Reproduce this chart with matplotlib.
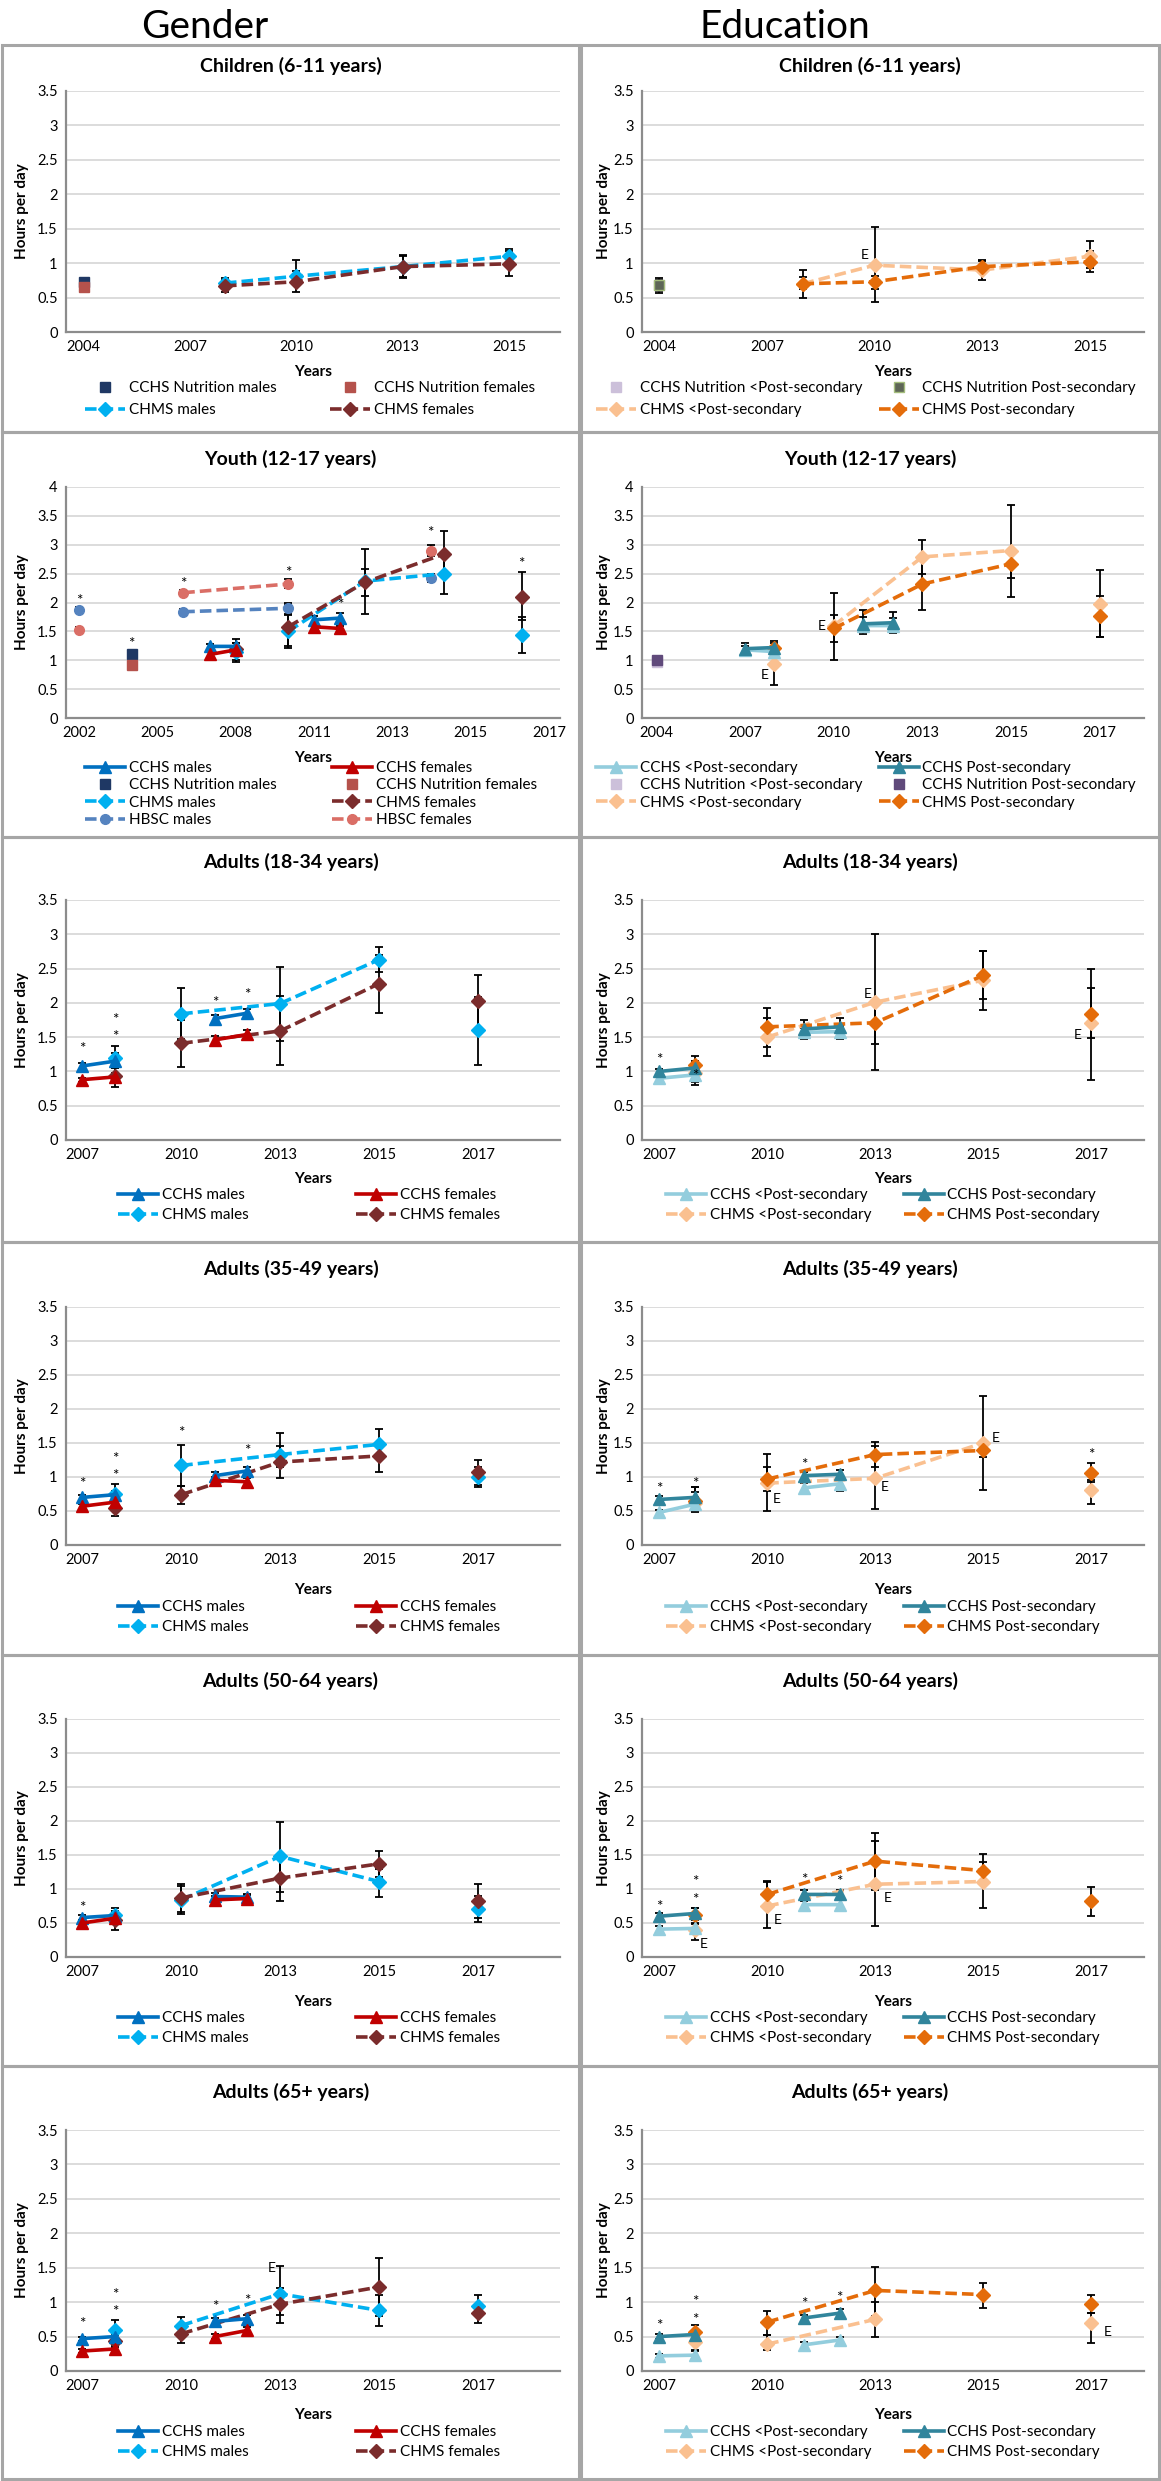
"""Screen time trends by gender and education, 6 age groups (recreated figure)."""

import matplotlib
matplotlib.use("Agg")
import matplotlib.pyplot as plt
from matplotlib.lines import Line2D
from matplotlib.patches import Rectangle
import numpy as np

plt.rcParams["font.family"] = ["Lato", "DejaVu Sans"]

nan = np.nan
W, H = 1161, 2481

# ── Data (x = position on the category axis, y = hours per day) ──────────────
# error bars are (low, high), None where no bar is drawn

# Children, gender
CG_TICKS = ["2004", "2007", "2010", "2013", "2015"]
CG_NUT_X = [0]
CG_NUT_M = [0.72]
CG_NUT_M_ERR = [(0.69, 0.75)]
CG_NUT_F = [0.66]
CG_NUT_F_ERR = [(0.62, 0.70)]
CG_CHMS_X = [1.33, 2, 3, 4]
CG_CHMS_M = [0.71, 0.81, 0.95, 1.10]
CG_CHMS_M_ERR = [(0.62, 0.78), (0.70, 1.05), (0.80, 1.12), (0.95, 1.21)]
CG_CHMS_F = [0.67, 0.73, 0.95, 0.99]
CG_CHMS_F_ERR = [(0.58, 0.76), (0.58, 0.88), (0.78, 1.10), (0.82, 1.17)]

# Children, education
CE_TICKS = ["2004", "2007", "2010", "2013", "2015"]
CE_NUT_X = [0]
CE_NUT_LO = [0.68]
CE_NUT_LO_ERR = [(0.60, 0.76)]
CE_NUT_HI = [0.68]
CE_NUT_HI_ERR = [(0.57, 0.78)]
CE_CHMS_X = [1.33, 2, 3, 4]
CE_CHMS_LO = [0.70, 0.97, 0.90, 1.10]
CE_CHMS_LO_ERR = [(0.50, 0.90), (0.43, 1.52), (0.76, 1.03), (0.93, 1.32)]
CE_CHMS_HI = [0.70, 0.73, 0.95, 1.02]
CE_CHMS_HI_ERR = [(0.62, 0.80), (0.63, 0.82), (0.85, 1.05), (0.87, 1.17)]
CE_E = [(1.91, 1.12)]

# Youth, gender
YG_TICKS = ["2002", "2005", "2008", "2011", "2013", "2015", "2017"]
YG_HBSC_X = [0, nan, 1.33, 2.67, nan, 4.49]
YG_HBSC_M = [1.87, nan, 1.84, 1.90, nan, 2.43]
YG_HBSC_M_ERR = [(1.82, 1.92), None, (1.80, 1.88), (1.78, 2.00), None, (2.35, 2.50)]
YG_HBSC_F = [1.53, nan, 2.17, 2.32, nan, 2.90]
YG_HBSC_F_ERR = [(1.49, 1.57), None, (2.13, 2.21), (2.25, 2.40), None, (2.80, 3.00)]
YG_NUT_X = [0.67]
YG_NUT_M = [1.10]
YG_NUT_M_ERR = [(1.02, 1.18)]
YG_NUT_F = [0.92]
YG_NUT_F_ERR = [(0.88, 0.96)]
YG_CCHS_X = [1.67, 2.0, nan, 3.0, 3.33]
YG_CCHS_M = [1.24, 1.24, nan, 1.70, 1.73]
YG_CCHS_M_ERR = [(1.20, 1.28), (1.18, 1.30), None, (1.64, 1.76), (1.66, 1.82)]
YG_CCHS_F = [1.10, 1.18, nan, 1.58, 1.55]
YG_CCHS_F_ERR = [(1.06, 1.14), (1.12, 1.24), None, (1.52, 1.64), (1.50, 1.60)]
YG_CHMS_X = [2.0, nan, 2.67, 3.65, 4.66, nan, 5.65]
YG_CHMS_M = [1.15, nan, 1.50, 2.37, 2.50, nan, 1.44]
YG_CHMS_M_ERR = [(1.00, 1.30), None, (1.25, 1.80), (2.12, 2.58), (2.15, 2.85), None, (1.12, 1.75)]
YG_CHMS_F = [1.20, nan, 1.58, 2.35, 2.84, nan, 2.10]
YG_CHMS_F_ERR = [(0.97, 1.37), None, (1.22, 1.98), (1.80, 2.92), (2.45, 3.23), None, (1.70, 2.53)]
YG_STAR = [(0, 2.02), (0.67, 1.28), (1.33, 2.32), (2.67, 2.51), (3.33, 1.95), (4.49, 3.20), (5.65, 2.67)]

# Youth, education
YE_TICKS = ["2004", "2007", "2010", "2013", "2015", "2017"]
YE_NUT_X = [0]
YE_NUT_LO = [0.97]
YE_NUT_LO_ERR = [(0.90, 1.05)]
YE_NUT_HI = [1.00]
YE_NUT_HI_ERR = [(0.88, 1.08)]
YE_CCHS_X = [1.0, 1.33, nan, 2.33, 2.67]
YE_CCHS_LO = [1.18, 1.15, nan, 1.60, 1.60]
YE_CCHS_LO_ERR = [(1.12, 1.24), (1.08, 1.22), None, (1.45, 1.75), (1.47, 1.73)]
YE_CCHS_HI = [1.20, 1.22, nan, 1.63, 1.65]
YE_CCHS_HI_ERR = [(1.14, 1.30), (1.15, 1.30), None, (1.50, 1.87), (1.50, 1.83)]
YE_CHMS_X = [1.33, nan, 2.0, 3.0, 4.0, nan, 5.0]
YE_CHMS_LO = [0.93, nan, 1.60, 2.79, 2.90, nan, 1.98]
YE_CHMS_LO_ERR = [(0.57, 1.07), None, (1.00, 2.17), (2.50, 3.08), (2.10, 3.68), None, (1.40, 2.57)]
YE_CHMS_HI = [1.22, nan, 1.55, 2.32, 2.67, nan, 1.76]
YE_CHMS_HI_ERR = [(1.07, 1.33), None, (1.31, 1.78), (1.87, 2.78), (2.42, 2.92), None, (1.40, 2.12)]
YE_E = [(1.22, 0.75), (1.86, 1.60)]

# Adults: the same year axis for every age group
AD_TICKS = ["2007", "2010", "2013", "2015", "2017"]
AD_CCHS_X = [0, 0.33, nan, 1.34, 1.67]
AD_CHMS_X = [0.33, nan, 1.0, 2.0, 3.0, nan, 4.0]

# Adults 18-34, gender
A1G_CCHS_M = [1.08, 1.15, nan, 1.77, 1.85]
A1G_CCHS_M_ERR = [(1.04, 1.12), (1.05, 1.27), None, (1.72, 1.83), (1.80, 1.91)]
A1G_CCHS_F = [0.88, 0.92, nan, 1.46, 1.54]
A1G_CCHS_F_ERR = [(0.85, 0.91), (0.86, 0.98), None, (1.42, 1.52), (1.48, 1.60)]
A1G_CHMS_M = [1.20, nan, 1.84, 1.99, 2.63, nan, 1.60]
A1G_CHMS_M_ERR = [(1.05, 1.37), None, (1.47, 2.22), (1.45, 2.52), (2.45, 2.82), None, (1.10, 2.08)]
A1G_CHMS_F = [0.93, nan, 1.41, 1.59, 2.28, nan, 2.02]
A1G_CHMS_F_ERR = [(0.78, 1.08), None, (1.06, 1.75), (1.10, 2.10), (1.85, 2.70), None, (1.62, 2.40)]
A1G_STAR = [(0, 1.32), (0.33, 1.75), (0.33, 1.50), (1.34, 2.00), (1.67, 2.12)]

# Adults 18-34, education
A1E_CCHS_LO = [0.90, 0.95, nan, 1.57, 1.58]
A1E_CCHS_LO_ERR = [(0.86, 0.94), (0.85, 1.05), None, (1.50, 1.64), (1.50, 1.66)]
A1E_CCHS_HI = [1.00, 1.05, nan, 1.62, 1.65]
A1E_CCHS_HI_ERR = [(0.96, 1.04), (0.95, 1.15), None, (1.48, 1.75), (1.48, 1.78)]
A1E_CHMS_LO = [0.97, nan, 1.50, 2.01, 2.33, nan, 1.70]
A1E_CHMS_LO_ERR = [(0.80, 1.10), None, (1.22, 1.78), (1.02, 3.00), (1.89, 2.75), None, (0.88, 2.50)]
A1E_CHMS_HI = [1.10, nan, 1.65, 1.71, 2.40, nan, 1.84]
A1E_CHMS_HI_ERR = [(0.90, 1.22), None, (1.35, 1.93), (1.40, 2.00), (2.05, 2.76), None, (1.49, 2.21)]
A1E_STAR = [(0, 1.16), (0.33, 0.93)]
A1E_E = [(1.93, 2.13), (3.88, 1.53)]

# Adults 35-49, gender
A2G_CCHS_M = [0.70, 0.74, nan, 1.02, 1.09]
A2G_CCHS_M_ERR = [(0.66, 0.74), (0.68, 0.80), None, (0.97, 1.07), (1.03, 1.15)]
A2G_CCHS_F = [0.57, 0.63, nan, 0.95, 0.93]
A2G_CCHS_F_ERR = [(0.53, 0.61), (0.57, 0.69), None, (0.90, 1.00), (0.88, 0.98)]
A2G_CHMS_M = [0.75, nan, 1.17, 1.33, 1.48, nan, 1.00]
A2G_CHMS_M_ERR = [(0.62, 0.90), None, (0.87, 1.47), (1.15, 1.65), (1.26, 1.70), None, (0.85, 1.15)]
A2G_CHMS_F = [0.55, nan, 0.74, 1.22, 1.31, nan, 1.07]
A2G_CHMS_F_ERR = [(0.42, 0.68), None, (0.61, 0.87), (0.99, 1.45), (1.08, 1.52), None, (0.88, 1.25)]
A2G_STAR = [(0, 0.90), (0.33, 1.27), (0.33, 1.02), (1.0, 1.64), (1.67, 1.38)]

# Adults 35-49, education
A2E_CCHS_LO = [0.48, 0.60, nan, 0.84, 0.90]
A2E_CCHS_LO_ERR = [(0.44, 0.52), (0.50, 0.70), None, (0.77, 0.91), (0.80, 1.00)]
A2E_CCHS_HI = [0.67, 0.70, nan, 1.02, 1.04]
A2E_CCHS_HI_ERR = [(0.62, 0.72), (0.62, 0.85), None, (0.96, 1.08), (0.98, 1.10)]
A2E_CHMS_LO = [0.62, nan, 0.91, 0.98, 1.50, nan, 0.81]
A2E_CHMS_LO_ERR = [(0.48, 0.78), None, (0.50, 1.34), (0.53, 1.45), (0.81, 2.19), None, (0.60, 0.95)]
A2E_CHMS_HI = [0.65, nan, 0.97, 1.33, 1.39, nan, 1.06]
A2E_CHMS_HI_ERR = [(0.52, 0.85), None, (0.80, 1.14), (1.14, 1.52), (1.29, 1.50), None, (0.93, 1.20)]
A2E_STAR = [(0, 0.82), (0.33, 0.90), (1.34, 1.18), (4.0, 1.33)]
A2E_E = [(1.09, 0.68), (2.09, 0.85), (3.12, 1.58)]

# Adults 50-64, gender
A3G_CCHS_M = [0.58, 0.61, nan, 0.89, 0.88]
A3G_CCHS_M_ERR = [(0.54, 0.62), (0.56, 0.66), None, (0.84, 0.94), (0.83, 0.93)]
A3G_CCHS_F = [0.50, 0.57, nan, 0.84, 0.86]
A3G_CCHS_F_ERR = [(0.46, 0.54), (0.52, 0.62), None, (0.79, 0.89), (0.81, 0.91)]
A3G_CHMS_M = [0.62, nan, 0.84, 1.48, 1.11, nan, 0.71]
A3G_CHMS_M_ERR = [(0.50, 0.72), None, (0.63, 1.05), (0.96, 1.99), (0.88, 1.30), None, (0.51, 0.90)]
A3G_CHMS_F = [0.54, nan, 0.87, 1.16, 1.37, nan, 0.82]
A3G_CHMS_F_ERR = [(0.40, 0.68), None, (0.66, 1.08), (0.82, 1.50), (1.18, 1.56), None, (0.57, 1.07)]
A3G_STAR = [(0, 0.72)]

# Adults 50-64, education
A3E_CCHS_LO = [0.41, 0.42, nan, 0.77, 0.77]
A3E_CCHS_LO_ERR = [(0.37, 0.45), (0.36, 0.48), None, (0.72, 0.82), (0.70, 0.84)]
A3E_CCHS_HI = [0.60, 0.64, nan, 0.92, 0.92]
A3E_CCHS_HI_ERR = [(0.56, 0.64), (0.58, 0.72), None, (0.86, 0.98), (0.70, 0.98)]
A3E_CHMS_LO = [0.40, nan, 0.75, 1.07, 1.11, nan, nan]
A3E_CHMS_LO_ERR = [(0.25, 0.55), None, (0.43, 1.10), (0.45, 1.70), (0.72, 1.40), None, None]
A3E_CHMS_HI = [0.62, nan, 0.92, 1.41, 1.27, nan, 0.82]
A3E_CHMS_HI_ERR = [(0.50, 0.72), None, (0.72, 1.12), (0.98, 1.83), (1.10, 1.51), None, (0.60, 1.03)]
A3E_STAR = [(0, 0.74), (0.33, 1.11), (0.33, 0.84), (1.34, 1.13), (1.67, 1.11)]
A3E_E = [(0.41, 0.19), (1.10, 0.55), (2.12, 0.87)]

# Adults 65+, gender
A4G_CCHS_M = [0.47, 0.50, nan, 0.72, 0.76]
A4G_CCHS_M_ERR = [(0.44, 0.50), (0.46, 0.56), None, (0.67, 0.77), (0.71, 0.81)]
A4G_CCHS_F = [0.29, 0.32, nan, 0.50, 0.59]
A4G_CCHS_F_ERR = [(0.26, 0.32), (0.28, 0.36), None, (0.46, 0.54), (0.54, 0.64)]
A4G_CHMS_M = [0.60, nan, 0.66, 1.12, 0.88, nan, 0.95]
A4G_CHMS_M_ERR = [(0.47, 0.74), None, (0.55, 0.79), (0.82, 1.52), (0.66, 1.10), None, (0.82, 1.11)]
A4G_CHMS_F = [0.43, nan, 0.54, 0.97, 1.22, nan, 0.84]
A4G_CHMS_F_ERR = [(0.35, 0.52), None, (0.40, 0.66), (0.70, 1.20), (0.80, 1.64), None, (0.70, 0.96)]
A4G_STAR = [(0, 0.68), (0.33, 1.10), (0.33, 0.85), (1.34, 0.93), (1.67, 1.02)]
A4G_E = [(1.91, 1.50)]

# Adults 65+, education
A4E_CCHS_LO = [0.22, 0.23, nan, 0.38, 0.45]
A4E_CCHS_LO_ERR = [(0.19, 0.25), (0.19, 0.29), None, (0.34, 0.42), (0.41, 0.49)]
A4E_CCHS_HI = [0.50, 0.53, nan, 0.77, 0.84]
A4E_CCHS_HI_ERR = [(0.46, 0.54), (0.47, 0.59), None, (0.72, 0.82), (0.78, 0.90)]
A4E_CHMS_LO = [0.42, nan, 0.39, 0.75, nan, nan, 0.69]
A4E_CHMS_LO_ERR = [(0.30, 0.52), None, (0.30, 0.52), (0.50, 1.00), None, None, (0.41, 0.84)]
A4E_CHMS_HI = [0.57, nan, 0.71, 1.17, 1.11, nan, 0.97]
A4E_CHMS_HI_ERR = [(0.45, 0.67), None, (0.52, 0.87), (0.80, 1.51), (0.92, 1.28), None, (0.84, 1.11)]
A4E_STAR = [(0, 0.66), (0.33, 1.00), (0.33, 0.74), (1.34, 0.98), (1.67, 1.06)]
A4E_E = [(4.15, 0.57)]

# ── Styles ───────────────────────────────────────────────────────────────────
DASH = (0, (3.2, 1.4))
STYLE = {
    "cchs_m":  dict(color="#0070C0", ls="-", lw=2.6, marker="^", ms=9),
    "cchs_f":  dict(color="#C00000", ls="-", lw=2.6, marker="^", ms=9),
    "nut_m":   dict(color="#1F3864", ls="none", marker="s", ms=6.5),
    "nut_f":   dict(color="#B5524C", ls="none", marker="s", ms=6.5),
    "chms_m":  dict(color="#00B0F0", ls=DASH, lw=2.6, marker="D", ms=7),
    "chms_f":  dict(color="#7B2C2C", ls=DASH, lw=2.6, marker="D", ms=7),
    "hbsc_m":  dict(color="#5583BF", ls=DASH, lw=2.6, marker="o", ms=7),
    "hbsc_f":  dict(color="#DA6E66", ls=DASH, lw=2.6, marker="o", ms=7),
    "cchs_lo": dict(color="#93CDDD", ls="-", lw=2.6, marker="^", ms=9),
    "cchs_hi": dict(color="#31859C", ls="-", lw=2.6, marker="^", ms=9),
    "nut_lo":  dict(color="#CCC0DA", ls="none", marker="s", ms=6.5),
    "nut_hi":  dict(color="#604A7B", ls="none", marker="s", ms=6.5),
    "nut_hi_c": dict(color="#5E6657", markeredgecolor="#A4BD7C", ls="none", marker="s", ms=6.5),
    "chms_lo": dict(color="#FAC090", ls=DASH, lw=2.6, marker="D", ms=7),
    "chms_hi": dict(color="#E46C0A", ls=DASH, lw=2.6, marker="D", ms=7),
}
LABEL = {
    "cchs_m": "CCHS males", "cchs_f": "CCHS females",
    "nut_m": "CCHS Nutrition males", "nut_f": "CCHS Nutrition females",
    "chms_m": "CHMS males", "chms_f": "CHMS females",
    "hbsc_m": "HBSC males", "hbsc_f": "HBSC females",
    "cchs_lo": "CCHS <Post-secondary", "cchs_hi": "CCHS Post-secondary",
    "nut_lo": "CCHS Nutrition <Post-secondary", "nut_hi": "CCHS Nutrition Post-secondary",
    "nut_hi_c": "CCHS Nutrition Post-secondary",
    "chms_lo": "CHMS <Post-secondary", "chms_hi": "CHMS Post-secondary",
}

# ── Layout (pixels from the top of the figure) ───────────────────────────────
ROWS = [
    dict(box=(45, 432), ax=(91, 332), title=66, years=372, leg=381, sp=0.55),
    dict(box=(432, 837), ax=(487, 718), title=459, years=758, leg=761, sp=0.22),
    dict(box=(837, 1242), ax=(900, 1140), title=862, years=1179, leg=1188, sp=0.42),
    dict(box=(1242, 1655), ax=(1307, 1545), title=1269, years=1590, leg=1600, sp=0.42),
    dict(box=(1655, 2066), ax=(1719, 1957), title=1681, years=2002, leg=2011, sp=0.42),
    dict(box=(2066, 2479), ax=(2130, 2371), title=2092, years=2415, leg=2425, sp=0.42),
]
COLS = [dict(box=(2, 579), ax=(66, 560), ylab=22), dict(box=(581, 1159), ax=(642, 1144), ylab=604)]

fig = plt.figure(figsize=(W / 100, H / 100), dpi=100)
fig.patch.set_facecolor("white")

fig.text(205 / W, 1 - 27 / H, "Gender", ha="center", va="center", fontsize=28)
fig.text(785 / W, 1 - 27 / H, "Education", ha="center", va="center", fontsize=28)


def fy(px):
    return 1 - px / H


def handle(key):
    return Line2D([], [], label=LABEL[key], **STYLE[key])


def draw(ax, x, y, key, err=None):
    x = np.asarray(x, float)
    y = np.asarray(y, float)
    if err is not None:
        lo = np.array([e[0] if e else nan for e in err])
        hi = np.array([e[1] if e else nan for e in err])
        ok = np.isfinite(lo) & np.isfinite(x)
        ax.errorbar(x[ok], y[ok], yerr=[y[ok] - lo[ok], hi[ok] - y[ok]], fmt="none",
                    ecolor="black", elinewidth=1.3, capsize=3, capthick=1.3, zorder=2)
    ax.plot(x, y, zorder=3, **STYLE[key])


def panel(row, col, title, ticks, xlim, ymax, series, legend_cols, leg_x,
          stars=(), elabels=()):
    r, c = ROWS[row], COLS[col]
    fig.add_artist(Rectangle((c["box"][0] / W, fy(r["box"][1])),
                             (c["box"][1] - c["box"][0]) / W,
                             (r["box"][1] - r["box"][0]) / H,
                             transform=fig.transFigure, fill=False,
                             edgecolor="#A6A6A6", lw=2.2, zorder=0))
    x0, x1 = c["ax"]
    t, b = r["ax"]
    ax = fig.add_axes([x0 / W, fy(b), (x1 - x0) / W, (b - t) / H])
    for x, y, key, err in series:
        draw(ax, x, y, key, err)
    for sx, sy in stars:
        ax.text(sx, sy, "*", ha="center", va="center", fontsize=11, zorder=5)
    for ex, ey in elabels:
        ax.text(ex, ey, "E", ha="center", va="center", fontsize=10, zorder=5)

    ax.set_xlim(*xlim)
    ax.set_ylim(0, ymax)
    ax.set_xticks(range(len(ticks)))
    ax.set_xticklabels(ticks)
    yt = np.arange(0, ymax + 0.01, 0.5)
    ax.set_yticks(yt)
    ax.set_yticklabels([f"{v:g}" for v in yt])
    ax.tick_params(length=0, labelsize=10.5, pad=6)
    ax.grid(True, axis="y", color="#D9D9D9", lw=1.3)
    ax.set_axisbelow(True)
    for s in ("top", "right"):
        ax.spines[s].set_visible(False)
    for s in ("left", "bottom"):
        ax.spines[s].set_color("#8C8C8C")
        ax.spines[s].set_linewidth(1.6)

    cx = (x0 + x1) / 2 / W
    fig.text((c["box"][0] + c["box"][1]) / 2 / W, fy(r["title"]), title,
             ha="center", va="center", fontsize=14, fontweight="bold")
    fig.text(cx, fy(r["years"]), "Years", ha="center", va="center",
             fontsize=11, fontweight="bold")
    fig.text(c["ylab"] / W, fy((t + b) / 2), "Hours per day", rotation=90,
             ha="center", va="center", fontsize=11, fontweight="bold")

    left, right = legend_cols
    lx0, lx1 = leg_x
    fig.legend(handles=[handle(k) for k in left + right], ncol=2, mode="expand",
               loc="upper left", bbox_to_anchor=(lx0 / W, fy(r["leg"]), (lx1 - lx0) / W, 0),
               frameon=False, fontsize=11, handlelength=2.6, handletextpad=0.25,
               labelspacing=r["sp"], borderpad=0, borderaxespad=0)
    return ax


# Row 1: Children
panel(0, 0, "Children (6-11 years)", CG_TICKS, (-0.165, 4.48), 3.5, [
    (CG_NUT_X, CG_NUT_M, "nut_m", CG_NUT_M_ERR),
    (CG_NUT_X, CG_NUT_F, "nut_f", CG_NUT_F_ERR),
    (CG_CHMS_X, CG_CHMS_M, "chms_m", CG_CHMS_M_ERR),
    (CG_CHMS_X, CG_CHMS_F, "chms_f", CG_CHMS_F_ERR),
], (["nut_m", "chms_m"], ["nut_f", "chms_f"]), (85, 535))

panel(0, 1, "Children (6-11 years)", CE_TICKS, (-0.16, 4.5), 3.5, [
    (CE_NUT_X, CE_NUT_LO, "nut_lo", CE_NUT_LO_ERR),
    (CE_NUT_X, CE_NUT_HI, "nut_hi_c", CE_NUT_HI_ERR),
    (CE_CHMS_X, CE_CHMS_LO, "chms_lo", CE_CHMS_LO_ERR),
    (CE_CHMS_X, CE_CHMS_HI, "chms_hi", CE_CHMS_HI_ERR),
], (["nut_lo", "chms_lo"], ["nut_hi_c", "chms_hi"]), (596, 1136), elabels=CE_E)

# Row 2: Youth
panel(1, 0, "Youth (12-17 years)", YG_TICKS, (-0.167, 6.14), 4, [
    (YG_HBSC_X, YG_HBSC_M, "hbsc_m", YG_HBSC_M_ERR),
    (YG_HBSC_X, YG_HBSC_F, "hbsc_f", YG_HBSC_F_ERR),
    (YG_NUT_X, YG_NUT_M, "nut_m", YG_NUT_M_ERR),
    (YG_NUT_X, YG_NUT_F, "nut_f", YG_NUT_F_ERR),
    (YG_CHMS_X, YG_CHMS_M, "chms_m", YG_CHMS_M_ERR),
    (YG_CHMS_X, YG_CHMS_F, "chms_f", YG_CHMS_F_ERR),
    (YG_CCHS_X, YG_CCHS_M, "cchs_m", YG_CCHS_M_ERR),
    (YG_CCHS_X, YG_CCHS_F, "cchs_f", YG_CCHS_F_ERR),
], (["cchs_m", "nut_m", "chms_m", "hbsc_m"], ["cchs_f", "nut_f", "chms_f", "hbsc_f"]),
    (85, 537), stars=YG_STAR)

panel(1, 1, "Youth (12-17 years)", YE_TICKS, (-0.164, 5.5), 4, [
    (YE_NUT_X, YE_NUT_LO, "nut_lo", YE_NUT_LO_ERR),
    (YE_NUT_X, YE_NUT_HI, "nut_hi", YE_NUT_HI_ERR),
    (YE_CHMS_X, YE_CHMS_LO, "chms_lo", YE_CHMS_LO_ERR),
    (YE_CHMS_X, YE_CHMS_HI, "chms_hi", YE_CHMS_HI_ERR),
    (YE_CCHS_X, YE_CCHS_LO, "cchs_lo", YE_CCHS_LO_ERR),
    (YE_CCHS_X, YE_CCHS_HI, "cchs_hi", YE_CCHS_HI_ERR),
], (["cchs_lo", "nut_lo", "chms_lo"], ["cchs_hi", "nut_hi", "chms_hi"]),
    (596, 1136), elabels=YE_E)

# Rows 3-6: Adults
ADULTS = [
    ("Adults (18-34 years)",
     (A1G_CCHS_M, A1G_CCHS_M_ERR, A1G_CCHS_F, A1G_CCHS_F_ERR,
      A1G_CHMS_M, A1G_CHMS_M_ERR, A1G_CHMS_F, A1G_CHMS_F_ERR, A1G_STAR, ()),
     (A1E_CCHS_LO, A1E_CCHS_LO_ERR, A1E_CCHS_HI, A1E_CCHS_HI_ERR,
      A1E_CHMS_LO, A1E_CHMS_LO_ERR, A1E_CHMS_HI, A1E_CHMS_HI_ERR, A1E_STAR, A1E_E)),
    ("Adults (35-49 years)",
     (A2G_CCHS_M, A2G_CCHS_M_ERR, A2G_CCHS_F, A2G_CCHS_F_ERR,
      A2G_CHMS_M, A2G_CHMS_M_ERR, A2G_CHMS_F, A2G_CHMS_F_ERR, A2G_STAR, ()),
     (A2E_CCHS_LO, A2E_CCHS_LO_ERR, A2E_CCHS_HI, A2E_CCHS_HI_ERR,
      A2E_CHMS_LO, A2E_CHMS_LO_ERR, A2E_CHMS_HI, A2E_CHMS_HI_ERR, A2E_STAR, A2E_E)),
    ("Adults (50-64 years)",
     (A3G_CCHS_M, A3G_CCHS_M_ERR, A3G_CCHS_F, A3G_CCHS_F_ERR,
      A3G_CHMS_M, A3G_CHMS_M_ERR, A3G_CHMS_F, A3G_CHMS_F_ERR, A3G_STAR, ()),
     (A3E_CCHS_LO, A3E_CCHS_LO_ERR, A3E_CCHS_HI, A3E_CCHS_HI_ERR,
      A3E_CHMS_LO, A3E_CHMS_LO_ERR, A3E_CHMS_HI, A3E_CHMS_HI_ERR, A3E_STAR, A3E_E)),
    ("Adults (65+ years)",
     (A4G_CCHS_M, A4G_CCHS_M_ERR, A4G_CCHS_F, A4G_CCHS_F_ERR,
      A4G_CHMS_M, A4G_CHMS_M_ERR, A4G_CHMS_F, A4G_CHMS_F_ERR, A4G_STAR, A4G_E),
     (A4E_CCHS_LO, A4E_CCHS_LO_ERR, A4E_CCHS_HI, A4E_CCHS_HI_ERR,
      A4E_CHMS_LO, A4E_CHMS_LO_ERR, A4E_CHMS_HI, A4E_CHMS_HI_ERR, A4E_STAR, A4E_E)),
]

for i, (title, g, e) in enumerate(ADULTS):
    panel(2 + i, 0, title, AD_TICKS, (-0.165, 4.83), 3.5, [
        (AD_CHMS_X, g[4], "chms_m", g[5]),
        (AD_CHMS_X, g[6], "chms_f", g[7]),
        (AD_CCHS_X, g[0], "cchs_m", g[1]),
        (AD_CCHS_X, g[2], "cchs_f", g[3]),
    ], (["cchs_m", "chms_m"], ["cchs_f", "chms_f"]), (118, 500), stars=g[8], elabels=g[9])
    panel(2 + i, 1, title, AD_TICKS, (-0.16, 4.49), 3.5, [
        (AD_CHMS_X, e[4], "chms_lo", e[5]),
        (AD_CHMS_X, e[6], "chms_hi", e[7]),
        (AD_CCHS_X, e[0], "cchs_lo", e[1]),
        (AD_CCHS_X, e[2], "cchs_hi", e[3]),
    ], (["cchs_lo", "chms_lo"], ["cchs_hi", "chms_hi"]), (666, 1100), stars=e[8], elabels=e[9])

fig.savefig("out.png", dpi=100)
